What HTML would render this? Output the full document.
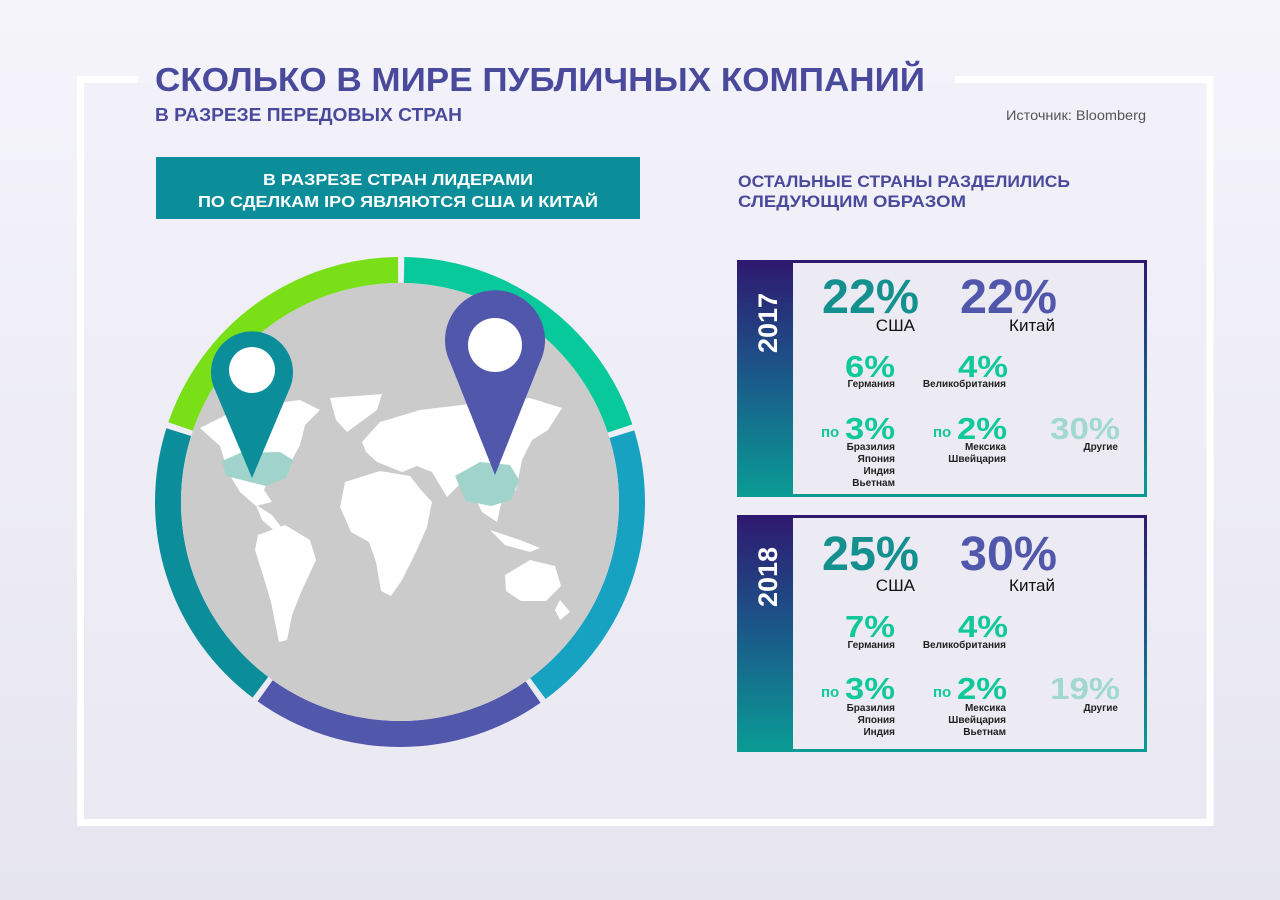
<!DOCTYPE html>
<html><head><meta charset="utf-8"><style>
html,body{margin:0;padding:0;width:1280px;height:900px;overflow:hidden}
svg{display:block}
text{font-family:"Liberation Sans","DejaVu Sans",sans-serif}
</style></head><body>
<svg width="1280" height="900" viewBox="0 0 1280 900" xmlns="http://www.w3.org/2000/svg">
<defs>
<linearGradient id="bg" x1="0" y1="0" x2="0" y2="1"><stop offset="0" stop-color="#f5f4fb"/><stop offset="1" stop-color="#e6e5ef"/></linearGradient>
<linearGradient id="strip" x1="0" y1="0" x2="0" y2="1"><stop offset="0" stop-color="#2f1870"/><stop offset="0.5" stop-color="#1a5a8a"/><stop offset="1" stop-color="#0a9c94"/></linearGradient>
</defs>
<rect width="1280" height="900" fill="url(#bg)"/>
<!-- frame -->
<path d="M138 79.5 H80.5 V822.5 H1210 V79.5 H955" fill="none" stroke="#fff" stroke-width="7"/>
<rect x="84" y="83" width="1122" height="736" fill="#f0eff7" opacity="0.35"/>
<!-- title -->
<text x="155" y="91" font-size="33" font-weight="bold" fill="#4a4a9c" textLength="770" lengthAdjust="spacingAndGlyphs">СКОЛЬКО В МИРЕ ПУБЛИЧНЫХ КОМПАНИЙ</text>
<text x="155" y="121" font-size="18" font-weight="bold" fill="#4a4a9c" textLength="307" lengthAdjust="spacingAndGlyphs">В РАЗРЕЗЕ ПЕРЕДОВЫХ СТРАН</text>
<text x="1006" y="120" font-size="14" fill="#555" textLength="140" lengthAdjust="spacingAndGlyphs">Источник: Bloomberg</text>
<!-- teal box -->
<rect x="156" y="157" width="484" height="62" fill="#0b8e9a"/>
<text x="398" y="185" font-size="16" font-weight="bold" fill="#fff" text-anchor="middle" textLength="270" lengthAdjust="spacingAndGlyphs">В РАЗРЕЗЕ СТРАН ЛИДЕРАМИ</text>
<text x="398" y="207" font-size="16" font-weight="bold" fill="#fff" text-anchor="middle" textLength="400" lengthAdjust="spacingAndGlyphs">ПО СДЕЛКАМ IPO ЯВЛЯЮТСЯ США И КИТАЙ</text>
<!-- right heading -->
<text x="738" y="187" font-size="17" font-weight="bold" fill="#4a4a9c" textLength="332" lengthAdjust="spacingAndGlyphs">ОСТАЛЬНЫЕ СТРАНЫ РАЗДЕЛИЛИСЬ</text>
<text x="738" y="207" font-size="17" font-weight="bold" fill="#4a4a9c" textLength="228" lengthAdjust="spacingAndGlyphs">СЛЕДУЮЩИМ ОБРАЗОМ</text>

<!-- ring -->
<g fill="none" stroke-width="26">
<circle cx="400" cy="502" r="232" stroke="#08c99c" stroke-dasharray="285.5 1200" transform="rotate(-89 400 502)"/>
<circle cx="400" cy="502" r="232" stroke="#17a2c2" stroke-dasharray="285.5 1200" transform="rotate(-17 400 502)"/>
<circle cx="400" cy="502" r="232" stroke="#5157aa" stroke-dasharray="285.5 1200" transform="rotate(55 400 502)"/>
<circle cx="400" cy="502" r="232" stroke="#0b8e9a" stroke-dasharray="285.5 1200" transform="rotate(127 400 502)"/>
<circle cx="400" cy="502" r="232" stroke="#79e018" stroke-dasharray="285.5 1200" transform="rotate(199 400 502)"/>
</g>
<circle cx="400" cy="502" r="219" fill="#cbcbcb"/>
<!-- map -->
<g fill="#fff">
<polygon points="200,428 240,408 300,400 320,410 305,425 300,445 292,460 272,470 264,490 272,502 256,506 240,492 228,472 220,446"/>
<polygon points="256,505 272,515 282,528 276,532 262,520"/>
<polygon points="258,535 285,525 310,540 316,560 302,590 292,615 287,640 279,642 271,602 262,572 255,550"/>
<polygon points="330,398 382,394 377,410 347,432 336,420"/>
<polygon points="362,442 380,422 420,410 470,404 530,398 562,408 548,430 532,440 522,460 516,490 502,500 497,522 482,512 472,492 462,482 447,497 432,472 417,466 402,472 377,462 366,452"/>
<polygon points="345,482 380,471 410,476 421,490 432,502 427,527 416,552 402,580 391,596 381,591 376,562 369,542 351,532 340,507"/>
<polygon points="505,575 530,560 555,566 561,586 546,601 521,601 506,591"/>
<polygon points="490,530 520,540 540,548 530,552 505,545"/>
<polygon points="560,600 570,612 560,620 555,610"/>
</g>
<polygon points="222,461 240,453 280,452 293,460 286,478 266,486 246,481 226,476" fill="#9fd3cc"/>
<polygon points="455,476 480,462 510,465 519,480 511,500 491,506 466,501" fill="#9fd3cc"/>
<!-- pins -->
<path d="M252 478 L215 390 A41 41 0 1 1 289 390 Z" fill="#0b8e9a"/>
<circle cx="252" cy="370" r="23" fill="#fff"/>
<path d="M495 475 L450 362 A50 50 0 1 1 540 362 Z" fill="#5157aa"/>
<circle cx="495" cy="345" r="27" fill="#fff"/>

<!-- card 2017 -->
<g>
<rect x="738.5" y="261.5" width="407" height="234" fill="#eceaf3" stroke="url(#strip)" stroke-width="3"/>
<rect x="737" y="260" width="56" height="237" fill="url(#strip)"/>
<text transform="translate(777 323) rotate(-90)" font-size="27" font-weight="bold" fill="#fff" text-anchor="middle">2017</text>
<text x="822" y="313" font-size="48" font-weight="bold" fill="#14908f" textLength="97" lengthAdjust="spacingAndGlyphs">22%</text>
<text x="915" y="331" font-size="17" fill="#111" text-anchor="end">США</text>
<text x="960" y="313" font-size="48" font-weight="bold" fill="#5157aa" textLength="97" lengthAdjust="spacingAndGlyphs">22%</text>
<text x="1055" y="331" font-size="17" fill="#111" text-anchor="end">Китай</text>
<text x="895" y="377" font-size="31" font-weight="bold" fill="#10c99a" text-anchor="end" textLength="50" lengthAdjust="spacingAndGlyphs">6%</text>
<text x="895" y="387" font-size="10" font-weight="bold" fill="#222" text-anchor="end">Германия</text>
<text x="1008" y="377" font-size="31" font-weight="bold" fill="#10c99a" text-anchor="end" textLength="50" lengthAdjust="spacingAndGlyphs">4%</text>
<text x="1006" y="387" font-size="10" font-weight="bold" fill="#222" text-anchor="end">Великобритания</text>
<text x="821" y="437" font-size="15" font-weight="bold" fill="#10c99a">по</text>
<text x="895" y="439" font-size="31" font-weight="bold" fill="#10c99a" text-anchor="end" textLength="50" lengthAdjust="spacingAndGlyphs">3%</text>
<text x="895" y="450" font-size="10" font-weight="bold" fill="#222" text-anchor="end">Бразилия</text>
<text x="895" y="462" font-size="10" font-weight="bold" fill="#222" text-anchor="end">Япония</text>
<text x="895" y="474" font-size="10" font-weight="bold" fill="#222" text-anchor="end">Индия</text>
<text x="895" y="486" font-size="10" font-weight="bold" fill="#222" text-anchor="end">Вьетнам</text>
<text x="933" y="437" font-size="15" font-weight="bold" fill="#10c99a">по</text>
<text x="1007" y="439" font-size="31" font-weight="bold" fill="#10c99a" text-anchor="end" textLength="50" lengthAdjust="spacingAndGlyphs">2%</text>
<text x="1006" y="450" font-size="10" font-weight="bold" fill="#222" text-anchor="end">Мексика</text>
<text x="1006" y="462" font-size="10" font-weight="bold" fill="#222" text-anchor="end">Швейцария</text>
<text x="1120" y="439" font-size="31" font-weight="bold" fill="#a2d9cd" text-anchor="end" textLength="70" lengthAdjust="spacingAndGlyphs">30%</text>
<text x="1118" y="450" font-size="10" font-weight="bold" fill="#222" text-anchor="end">Другие</text>
</g>

<!-- card 2018 -->
<g>
<rect x="738.5" y="516.5" width="407" height="234" fill="#eceaf3" stroke="url(#strip)" stroke-width="3"/>
<rect x="737" y="515" width="56" height="237" fill="url(#strip)"/>
<text transform="translate(777 577) rotate(-90)" font-size="27" font-weight="bold" fill="#fff" text-anchor="middle">2018</text>
<text x="822" y="570" font-size="48" font-weight="bold" fill="#14908f" textLength="97" lengthAdjust="spacingAndGlyphs">25%</text>
<text x="915" y="591" font-size="17" fill="#111" text-anchor="end">США</text>
<text x="960" y="570" font-size="48" font-weight="bold" fill="#5157aa" textLength="97" lengthAdjust="spacingAndGlyphs">30%</text>
<text x="1055" y="591" font-size="17" fill="#111" text-anchor="end">Китай</text>
<text x="895" y="637" font-size="31" font-weight="bold" fill="#10c99a" text-anchor="end" textLength="50" lengthAdjust="spacingAndGlyphs">7%</text>
<text x="895" y="648" font-size="10" font-weight="bold" fill="#222" text-anchor="end">Германия</text>
<text x="1008" y="637" font-size="31" font-weight="bold" fill="#10c99a" text-anchor="end" textLength="50" lengthAdjust="spacingAndGlyphs">4%</text>
<text x="1006" y="648" font-size="10" font-weight="bold" fill="#222" text-anchor="end">Великобритания</text>
<text x="821" y="697" font-size="15" font-weight="bold" fill="#10c99a">по</text>
<text x="895" y="699" font-size="31" font-weight="bold" fill="#10c99a" text-anchor="end" textLength="50" lengthAdjust="spacingAndGlyphs">3%</text>
<text x="895" y="711" font-size="10" font-weight="bold" fill="#222" text-anchor="end">Бразилия</text>
<text x="895" y="723" font-size="10" font-weight="bold" fill="#222" text-anchor="end">Япония</text>
<text x="895" y="735" font-size="10" font-weight="bold" fill="#222" text-anchor="end">Индия</text>
<text x="933" y="697" font-size="15" font-weight="bold" fill="#10c99a">по</text>
<text x="1007" y="699" font-size="31" font-weight="bold" fill="#10c99a" text-anchor="end" textLength="50" lengthAdjust="spacingAndGlyphs">2%</text>
<text x="1006" y="711" font-size="10" font-weight="bold" fill="#222" text-anchor="end">Мексика</text>
<text x="1006" y="723" font-size="10" font-weight="bold" fill="#222" text-anchor="end">Швейцария</text>
<text x="1006" y="735" font-size="10" font-weight="bold" fill="#222" text-anchor="end">Вьетнам</text>
<text x="1120" y="699" font-size="31" font-weight="bold" fill="#a2d9cd" text-anchor="end" textLength="70" lengthAdjust="spacingAndGlyphs">19%</text>
<text x="1118" y="711" font-size="10" font-weight="bold" fill="#222" text-anchor="end">Другие</text>
</g>
</svg>
</body></html>
